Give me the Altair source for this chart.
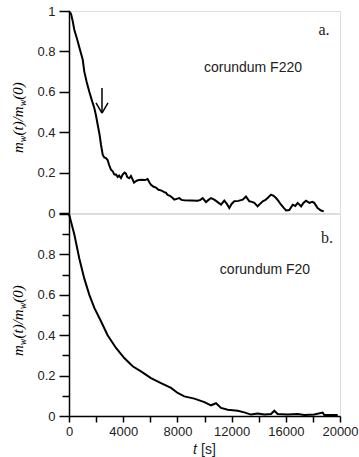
import altair as alt
import pandas as pd

# ---- data ----
t_a = [0, 150, 273, 391, 600, 760, 1011, 1129, 1300, 1498, 1700, 1867, 2000, 2118, 2250, 2362, 2487, 2600, 2731, 2850,
       2950, 3100, 3225, 3350, 3469, 3600, 3700, 3838, 3960, 4100, 4207, 4300, 4450, 4570, 4701, 4800, 4950, 5070, 5314,
       5600, 5800, 5950, 6052, 6250, 6420, 6600, 6790, 7000, 7159, 7280, 7450, 7653, 7770, 7950, 8140, 8300, 8510, 9000,
       9500, 9700, 9870, 10110, 10300, 10480, 10720, 10950, 11220, 11460, 11650, 11830, 12000, 12200, 12500, 12820, 13060,
       13310, 13500, 13680, 13920, 14100, 14300, 14500, 14660, 14910, 15100, 15280, 15450, 15650, 15850, 16020, 16260,
       16510, 16700, 16880, 17130, 17300, 17490, 17740, 17950, 18100, 18350, 18600, 18800]
v_a = [1.0, 0.985, 0.95, 0.907, 0.86, 0.82, 0.76, 0.70, 0.65, 0.60, 0.555, 0.52, 0.48, 0.437, 0.39, 0.338, 0.289, 0.275,
       0.272, 0.262, 0.24, 0.214, 0.206, 0.19, 0.19, 0.178, 0.185, 0.173, 0.19, 0.2, 0.195, 0.178, 0.172, 0.183, 0.165,
       0.15, 0.158, 0.162, 0.165, 0.163, 0.168, 0.15, 0.14, 0.13, 0.126, 0.115, 0.112, 0.105, 0.1, 0.09, 0.085, 0.074,
       0.066, 0.07, 0.074, 0.065, 0.063, 0.062, 0.061, 0.065, 0.074, 0.054, 0.065, 0.074, 0.066, 0.055, 0.041, 0.061,
       0.045, 0.025, 0.045, 0.058, 0.06, 0.066, 0.082, 0.058, 0.055, 0.05, 0.033, 0.045, 0.058, 0.065, 0.074, 0.091,
       0.085, 0.074, 0.06, 0.041, 0.025, 0.013, 0.015, 0.041, 0.035, 0.05, 0.033, 0.05, 0.061, 0.05, 0.055, 0.05, 0.025,
       0.012, 0.008]

t_b = [0, 390, 760, 1130, 1500, 1870, 2360, 2850, 3470, 4080, 4700, 5310, 6050, 6790, 7530, 8020, 8510, 9250, 9990,
       10480, 10850, 11220, 11710, 12450, 12940, 13430, 13920, 14420, 14910, 15150, 15400, 16140, 16880, 17370, 18100,
       18720, 18850, 19830]
v_b = [1.0, 0.9, 0.78, 0.68, 0.60, 0.535, 0.469, 0.40, 0.337, 0.287, 0.246, 0.221, 0.188, 0.163, 0.139, 0.114, 0.097,
       0.086, 0.069, 0.053, 0.063, 0.04, 0.031, 0.026, 0.018, 0.007, 0.012, 0.007, 0.01, 0.026, 0.01, 0.007, 0.01,
       0.005, 0.007, 0.017, 0.005, 0.005]

# arrow annotation in panel a (data coordinates)
arrow_t = [2435, 1993, 2878]
arrow_v = [0.619, 0.545, 0.545]
arrow_t2 = [2435, 2435, 2435]
arrow_v2 = [0.495, 0.495, 0.495]

y_ticks = [round(i * 0.1, 1) for i in range(11)]
x_ticks = list(range(0, 20001, 2000))

W, H = 271, 202
SANS = "Liberation Sans"
SERIF = "Liberation Serif"

df_a = pd.DataFrame({"t": t_a, "v": v_a})
df_b = pd.DataFrame({"t": t_b, "v": v_b})
df_arrow = pd.DataFrame({"t": arrow_t, "v": arrow_v, "t2": arrow_t2, "v2": arrow_v2})

xscale = alt.Scale(domain=[0, 20000], nice=False, zero=False)
yscale = alt.Scale(domain=[0, 1], nice=False)

major_test = "round(datum.value*10) % 2 == 0"


def y_axis(show_top_label=True):
    cond = major_test if show_top_label else f"{major_test} && datum.value < 0.95"
    return alt.Axis(values=y_ticks, title=None, grid=False, ticks=True,
                    labelExpr=f"({cond}) ? format(datum.value, '~g') : ''",
                    tickSize={"condition": {"test": major_test, "value": 10}, "value": 7},
                    labelFont=SANS, labelFontSize=13, labelColor="#222", labelPadding=4,
                    domainColor="black", domainWidth=1.5, tickColor="black", tickWidth=1.5)


x_axis = alt.Axis(values=x_ticks, title=None, grid=False, ticks=True,
                  labelExpr="datum.value % 4000 == 0 ? format(datum.value, 'd') : ''",
                  tickSize=6, labelFont=SANS, labelFontSize=13, labelColor="#222", labelPadding=3,
                  labelFlush=False, labelOverlap=False,
                  domainColor="black", domainWidth=1.5, tickColor="black", tickWidth=1.5)


def ytitle_layers():
    # m_w(t)/m_w(0) built from pieces so that the w can be a subscript
    pieces = [("m", 15, 0), ("w", 10, 3), ("(t)/m", 15, 0), ("w", 10, 3), ("(0)", 15, 0)]
    em = {"m": 0.722, "w": 0.667, "(": 0.333, ")": 0.333, "t": 0.278, "/": 0.278, "0": 0.5}
    y = 142.0
    layers = []
    for txt, fs, shift in pieces:
        layers.append(
            alt.Chart(pd.DataFrame({"s": [txt]})).mark_text(
                font=SERIF, fontStyle="italic", fontSize=fs, angle=270, align="left",
                baseline="alphabetic", color="black", clip=False
            ).encode(text="s:N", x=alt.value(-46 + shift), y=alt.value(y))
        )
        y -= sum(em[c] for c in txt) * fs
    return layers


def label_text(txt, x, y, font=SANS, size=14, style="normal", align="center"):
    return alt.Chart(pd.DataFrame({"s": [txt]})).mark_text(
        font=font, fontSize=size, fontStyle=style, align=align, baseline="middle", color="#222", clip=False
    ).encode(text="s:N", x=alt.value(x), y=alt.value(y))


line_a = alt.Chart(df_a).mark_line(color="black", strokeWidth=2).encode(
    x=alt.X("t:Q", scale=xscale, axis=None),
    y=alt.Y("v:Q", scale=yscale, axis=y_axis(True)),
)
arrow = alt.Chart(df_arrow).mark_rule(color="black", strokeWidth=1.5).encode(
    x=alt.X("t:Q", scale=xscale), y=alt.Y("v:Q", scale=yscale), x2="t2:Q", y2="v2:Q"
)
top = alt.layer(
    line_a, arrow,
    label_text("corundum F220", 184, 57),
    label_text("a.", 255, 19, font=SERIF, size=16),
    *ytitle_layers(),
).properties(width=W, height=H)

line_b = alt.Chart(df_b).mark_line(color="black", strokeWidth=2).encode(
    x=alt.X("t:Q", scale=xscale, axis=x_axis),
    y=alt.Y("v:Q", scale=yscale, axis=y_axis(False)),
)
bottom = alt.layer(
    line_b,
    label_text("corundum F20", 196, 56),
    label_text("b.", 258, 24, font=SERIF, size=16),
    label_text("t", 124, 236, size=14, style="italic", align="left"),
    label_text("[s]", 132, 236, size=14, align="left"),
    *ytitle_layers(),
).properties(width=W, height=H)

chart = alt.vconcat(top, bottom, spacing=1, bounds="flush").properties(
    padding={"left": 10, "top": 4, "right": 0, "bottom": 0}
).configure_view(stroke="black", strokeWidth=1.5).configure(background="white")

chart.save("out.html", embed_options={"renderer": "svg", "actions": False})
